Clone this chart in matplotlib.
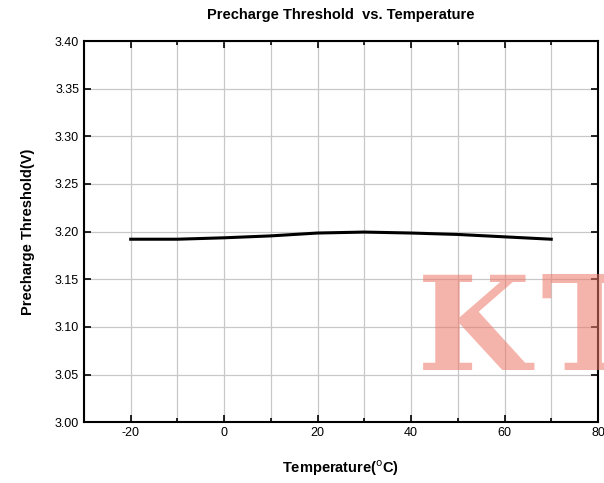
import numpy as np
import matplotlib
matplotlib.use("Agg")
import matplotlib.pyplot as plt
from matplotlib.ticker import MultipleLocator

temp = [-20, -10, 0, 10, 20, 30, 40, 50, 60, 70]
vth = [3.192, 3.192, 3.1935, 3.1955, 3.1985, 3.1995, 3.1985, 3.197, 3.1945, 3.192]

plt.rcParams["font.family"] = ["Liberation Sans", "DejaVu Sans"]
plt.rcParams["axes.unicode_minus"] = False

fig = plt.figure(figsize=(6.04, 4.83), dpi=100)
ax = fig.add_axes([0.139, 0.126, 0.851, 0.789])

ax.plot(temp, vth, color="black", lw=2.2, zorder=3)
ax.set_xlim(-30, 80)
ax.set_ylim(3.00, 3.40)
ax.xaxis.set_major_locator(MultipleLocator(20))
ax.xaxis.set_minor_locator(MultipleLocator(10))
ax.yaxis.set_major_locator(MultipleLocator(0.05))
ax.yaxis.set_major_formatter(matplotlib.ticker.FormatStrFormatter("%.2f"))
ax.grid(True, which="both", axis="x", color="#c8c8c8", lw=0.9)
ax.grid(True, which="major", axis="y", color="#c8c8c8", lw=0.9)
ax.tick_params(which="both", direction="in", top=True, right=True, labelsize=9, width=1.2)
ax.tick_params(which="major", length=5)
ax.tick_params(which="minor", length=3)
for s in ax.spines.values():
    s.set_linewidth(1.5)

ax.set_title("Precharge Threshold  vs. Temperature", fontsize=10.5, fontweight="bold", pad=16)
ax.set_xlabel("Temperature($^{\\rm o}$C)", fontsize=10.5, fontweight="bold", labelpad=14)
ax.set_ylabel("Precharge Threshold(V)", fontsize=10.5, fontweight="bold", labelpad=14)

# watermark, clipped by the right edge as in the source
fig.text(0.69, 0.234, "K", fontsize=94, fontweight="bold", family="DejaVu Serif",
         color="#ee7766", alpha=0.55, zorder=10)
fig.text(0.895, 0.234, "T", fontsize=94, fontweight="bold", family="DejaVu Serif",
         color="#ee7766", alpha=0.55, zorder=10)

fig.savefig("out.png", dpi=100)
